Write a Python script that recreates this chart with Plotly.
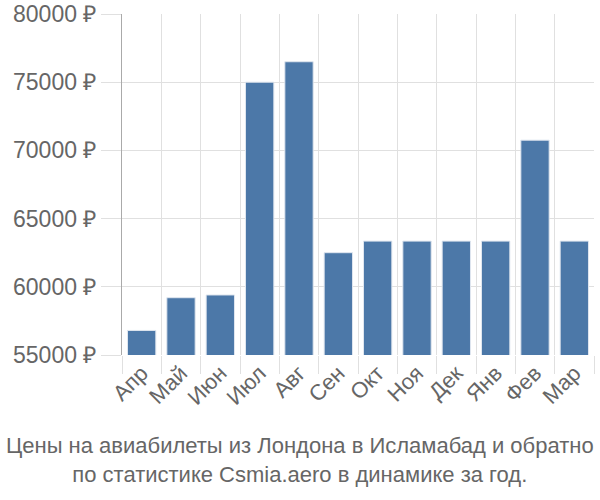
import plotly.graph_objects as go

months = ["Апр", "Май", "Июн", "Июл", "Авг", "Сен", "Окт", "Ноя", "Дек", "Янв", "Фев", "Мар"]
prices = [56800, 59200, 59400, 75000, 76500, 62500, 63350, 63350, 63350, 63350, 70750, 63350]
title_lines = ["Цены на авиабилеты из Лондона в Исламабад и обратно",
               "по статистике Csmia.aero в динамике за год."]

fig = go.Figure(go.Bar(
    x=months, y=prices,
    marker=dict(color="#4c78a8", line=dict(color="#dfe6ef", width=1)),
))

font = "Liberation Sans, Arial, sans-serif"
fig.update_layout(
    width=600, height=500,
    margin=dict(l=122, r=6, t=14, b=145, autoexpand=False),
    paper_bgcolor="white", plot_bgcolor="white",
    bargap=0.28,
    showlegend=False,
    font=dict(family=font, color="#666666", size=22),
    annotations=[dict(
        text="<br>".join(title_lines), x=0.5, xref="paper", y=0, yref="paper",
        xanchor="center", yanchor="top", yshift=-76, xshift=-58,
        showarrow=False, font=dict(size=22, color="#666666", family=font),
    )],
)
fig.update_xaxes(
    tickson="boundaries", showgrid=True, gridcolor="#e0e0e0", gridwidth=1,
    ticks="outside", ticklen=18, tickcolor="#e0e0e0",
    tickangle=-45, tickfont=dict(size=22, color="#666666"),
    showline=False, automargin=False,
)
fig.update_yaxes(
    range=[55000, 80000], dtick=5000, tickformat="d", ticksuffix=" ₽",
    showgrid=True, gridcolor="#e0e0e0", gridwidth=1,
    ticks="outside", ticklen=20, tickcolor="#e0e0e0",
    tickfont=dict(size=23, color="#666666"),
    showline=True, linecolor="#aaaaaa", linewidth=1,
    zeroline=False, automargin=False,
)
fig.write_html("out.html")
